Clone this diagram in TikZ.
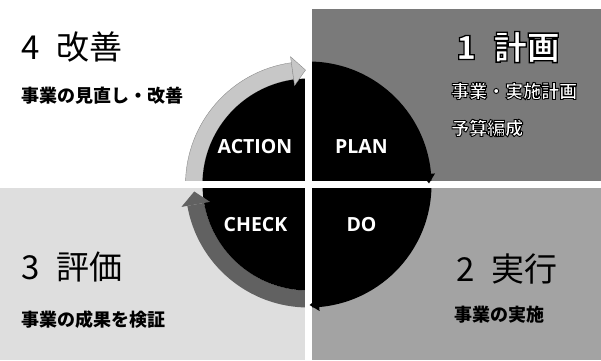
\documentclass[tikz,border=0pt]{standalone}
\usepackage{fontspec}
\newfontfamily\cjk{Noto Sans CJK JP}
\newfontfamily\lat{Open Sans}
\newcommand\outlined[2]{\special{pdf:literal direct 2 Tr #1 w 0 G}#2\special{pdf:literal direct 0 Tr}}
\tikzset{
  head/.style={anchor=west,inner sep=0pt,font=\cjk\fontsize{33}{33}\selectfont},
  sub/.style={anchor=west,inner sep=0pt,font=\cjk\bfseries\fontsize{18}{18}\selectfont},
  pdca/.style={inner sep=0pt,text=white,font=\lat\bfseries\fontsize{19.5}{19.5}\selectfont},
  tlring/.style={fill=black!22,draw=black!45,line width=0.4pt},
  blring/.style={fill=black!62},
}
\begin{document}
\begin{tikzpicture}[x=1pt,y=1pt]
\fill[white] (0,0) rectangle (601,360);
\useasboundingbox (0,0) rectangle (601,360);
% quadrant backgrounds
\fill[black!52] (312,179) rectangle (601,351);
\fill[black!13] (0,0) rectangle (305,172);
\fill[black!36] (312,0) rectangle (601,172);
% cycle
\coordinate (C) at (308.5,175.5);
\fill[black] ([shift={(90:123pt)}]C) arc[start angle=90,end angle=-90,radius=123pt] -- cycle;
\fill[tlring] ([shift={(180:123pt)}]C) arc[start angle=180,end angle=98,radius=123pt]
   -- ([shift={(98:106pt)}]C) arc[start angle=98,end angle=180,radius=106pt] -- cycle;
\fill[blring] ([shift={(270:123pt)}]C) arc[start angle=270,end angle=190,radius=123pt]
   -- ([shift={(190:106pt)}]C) arc[start angle=190,end angle=270,radius=106pt] -- cycle;
\fill[black] ([shift={(90:106pt)}]C) arc[start angle=90,end angle=270,radius=106pt] -- cycle;
% white gaps
\fill[white] (305,0) rectangle (312,360);
\fill[white] (0,172) rectangle (601,179);
% arrowheads
\filldraw[tlring] ([shift={(98:100pt)}]C) -- ([shift={(98:129pt)}]C) -- ([shift={(91.5:114.5pt)}]C) -- cycle;
\fill[blring] ([shift={(190:100pt)}]C) -- ([shift={(190:129pt)}]C) -- ([shift={(183.5:114.5pt)}]C) -- cycle;
\fill[black] ([shift={(5:114pt)}]C) -- ([shift={(5:127pt)}]C) -- ([shift={(0.5:120.5pt)}]C) -- cycle;
\fill[black] ([shift={(-85:114pt)}]C) -- ([shift={(-85:127pt)}]C) -- ([shift={(-89.5:120.5pt)}]C) -- cycle;
% cycle labels
\node[pdca] (act) at (255,213) {ACTION};
\node[pdca] (plan) at (361.5,213) {PLAN};
\node[pdca] (chk) at (255.5,135) {CHECK};
\node[pdca] (do) at (361.5,135) {DO};
% quadrant texts
\node[head] (t4) at (21,313) {4 \hspace{0.3em}改善};
\node[sub] (s4) at (21,264) {事業の見直し・改善};
\node[head,font=\cjk\bfseries\fontsize{33}{33}\selectfont,text=white] (t1) at (456,313) {\outlined{1.3}{1 \hspace{0.3em}計画}};
\node[sub,text=white] (s1a) at (451,269) {\outlined{0.9}{事業・実施計画}};
\node[sub,text=white] (s1b) at (451,232) {\outlined{0.9}{予算編成}};
\node[head] (t3) at (21,93) {3 \hspace{0.3em}評価};
\node[sub] (s3) at (21,40) {事業の成果を検証};
\node[head] (t2) at (456,91) {2 \hspace{0.3em}実行};
\node[sub] (s2) at (454,45) {事業の実施};
\end{tikzpicture}
\end{document}
